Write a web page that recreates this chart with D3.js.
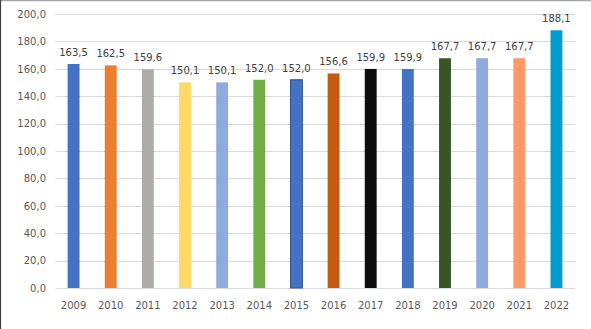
<!DOCTYPE html>
<html>
<head>
<meta charset="utf-8">
<script src="https://cdn.jsdelivr.net/npm/d3@7"></script>
<style>
  html, body { margin: 0; padding: 0; background: #fff; }
  svg { display: block; }
</style>
</head>
<body>
<svg id="chart" width="591" height="329"></svg>
<script>
const years = ["2009","2010","2011","2012","2013","2014","2015","2016","2017","2018","2019","2020","2021","2022"];
const values = [163.5,162.5,159.6,150.1,150.1,152.0,152.0,156.6,159.9,159.9,167.7,167.7,167.7,188.1];
const barColors = ["#4472C4","#ED7D31","#ADAAA7","#FFD966","#8FAADC","#70AD47","#4472C4","#C55A11","#0D0D0D","#4472C4","#375623","#8FAADC","#FF9966","#009DCF"];
const barStrokes = [null,null,null,null,null,null,"#2F528F",null,null,null,null,null,null,null];
const yTicks = [0,20,40,60,80,100,120,140,160,180,200];

const W = 591, H = 329;
const svg = d3.select("#chart");
const fmt = v => d3.format(".1f")(v).replace(".", ",");

const x = d3.scaleBand().domain(years).range([55, 575]).paddingInner(0.68).paddingOuter(0.34);
const y = d3.scaleLinear().domain([0, 200]).range([288, 14]);

// borders
svg.append("line").attr("x1",0).attr("x2",W).attr("y1",0.5).attr("y2",0.5).attr("stroke","#A6A6A6").attr("stroke-width",1.5);
svg.append("line").attr("x1",0.5).attr("x2",0.5).attr("y1",0).attr("y2",H).attr("stroke","#404040").attr("stroke-width",1.2);

// gridlines
svg.append("g").selectAll("line").data(yTicks).join("line")
  .attr("x1",55).attr("x2",575)
  .attr("y1",d=>Math.round(y(d))+0.5).attr("y2",d=>Math.round(y(d))+0.5)
  .attr("stroke","#D9D9D9").attr("stroke-width",1);

// y axis labels
const yAxis = d3.axisLeft(y).tickValues(yTicks).tickFormat(fmt).tickSize(0).tickPadding(9);
const gy = svg.append("g").attr("transform","translate(55,0)").call(yAxis);
gy.select(".domain").remove();
gy.selectAll("text").attr("fill","#595959").style("font-family","'DejaVu Sans', Verdana, sans-serif").style("font-size","10px");

// x axis labels
const xAxis = d3.axisBottom(x).tickSize(0).tickPadding(14);
const gx = svg.append("g").attr("transform","translate(0,288)").call(xAxis);
gx.select(".domain").remove();
gx.selectAll("text").attr("fill","#595959").style("font-family","'DejaVu Sans', Verdana, sans-serif").style("font-size","10px");

// bars
svg.append("g").selectAll("rect").data(values).join("rect")
  .attr("x",(d,i)=>x(years[i]))
  .attr("width",x.bandwidth())
  .attr("y",d=>y(d))
  .attr("height",d=>y(0)-y(d))
  .attr("fill",(d,i)=>barColors[i])
  .attr("stroke",(d,i)=>barStrokes[i] || "none")
  .attr("stroke-width",1);

// data labels
svg.append("g").selectAll("text").data(values).join("text")
  .attr("x",(d,i)=>x(years[i])+x.bandwidth()/2)
  .attr("y",d=>y(d)-8)
  .attr("text-anchor","middle")
  .attr("fill","#404040")
  .style("font-family","'DejaVu Sans', Verdana, sans-serif")
  .style("font-size","10px")
  .text(d=>fmt(d));
</script>
</body>
</html>
